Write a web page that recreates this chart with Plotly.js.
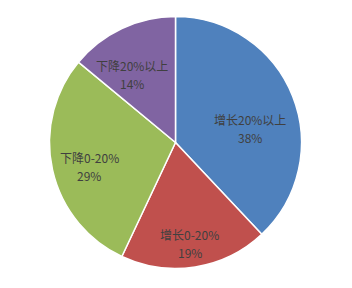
<!DOCTYPE html>
<html>
<head>
<meta charset="utf-8">
<script src="https://cdn.plot.ly/plotly-3.0.1.min.js"></script>
<style>
  html, body { margin: 0; padding: 0; background: #ffffff; }
  #chart { width: 352px; height: 288px; }
</style>
</head>
<body>
<div id="chart"></div>
<script>
// Share of items by change range
const categories = ['增长20%以上', '增长0-20%', '下降0-20%', '下降20%以上'];
const shares = [38, 19, 29, 14];
const sliceColors = ['#4F81BD', '#C0504D', '#9BBB59', '#8064A2'];

// Figure size and pie placement (pixels)
const W = 352, H = 288;
const CX = 175.5, CY = 142.5, R = 126;

// Data-label placement: radial fraction and angular nudge (deg) per slice
const labelRadius = [0.60, 0.81, 0.71, 0.64];
const labelTurn = [11.3, 0.9, -2.9, -7.2];

const labelFont = { family: '"Noto Sans CJK SC", "Noto Sans", sans-serif', size: 12, color: '#404040' };

const trace = {
  type: 'pie',
  labels: categories,
  values: shares,
  sort: false,
  direction: 'clockwise',
  rotation: 0,
  marker: { colors: sliceColors, line: { color: '#ffffff', width: 1.5 } },
  textinfo: 'none',
  hoverinfo: 'label+percent',
  domain: { x: [(CX - R) / W, (CX + R) / W], y: [1 - (CY + R) / H, 1 - (CY - R) / H] }
};

// Labels sit along each slice's mid-angle (clockwise from 12 o'clock)
const total = shares.reduce((a, b) => a + b, 0);
const annotations = [];
let cum = 0;
shares.forEach((v, i) => {
  const mid = (cum + v / 2) / total * 360 + labelTurn[i];
  cum += v;
  const a = mid * Math.PI / 180;
  const r = R * labelRadius[i];
  const px = CX + r * Math.sin(a);
  const py = CY - r * Math.cos(a);
  const base = { xref: 'paper', yref: 'paper', x: px / W, y: 1 - py / H,
                 xanchor: 'center', yanchor: 'middle', showarrow: false, font: labelFont };
  const pct = Math.round(v / total * 100) + '%';
  annotations.push(Object.assign({}, base, { text: categories[i], yshift: 9 }));
  annotations.push(Object.assign({}, base, { text: pct, yshift: -9 }));
});

const layout = {
  width: W,
  height: H,
  margin: { l: 0, r: 0, t: 0, b: 0 },
  paper_bgcolor: '#ffffff',
  showlegend: false,
  annotations: annotations
};

Plotly.newPlot('chart', [trace], layout, { displayModeBar: false, staticPlot: true });
</script>
</body>
</html>
